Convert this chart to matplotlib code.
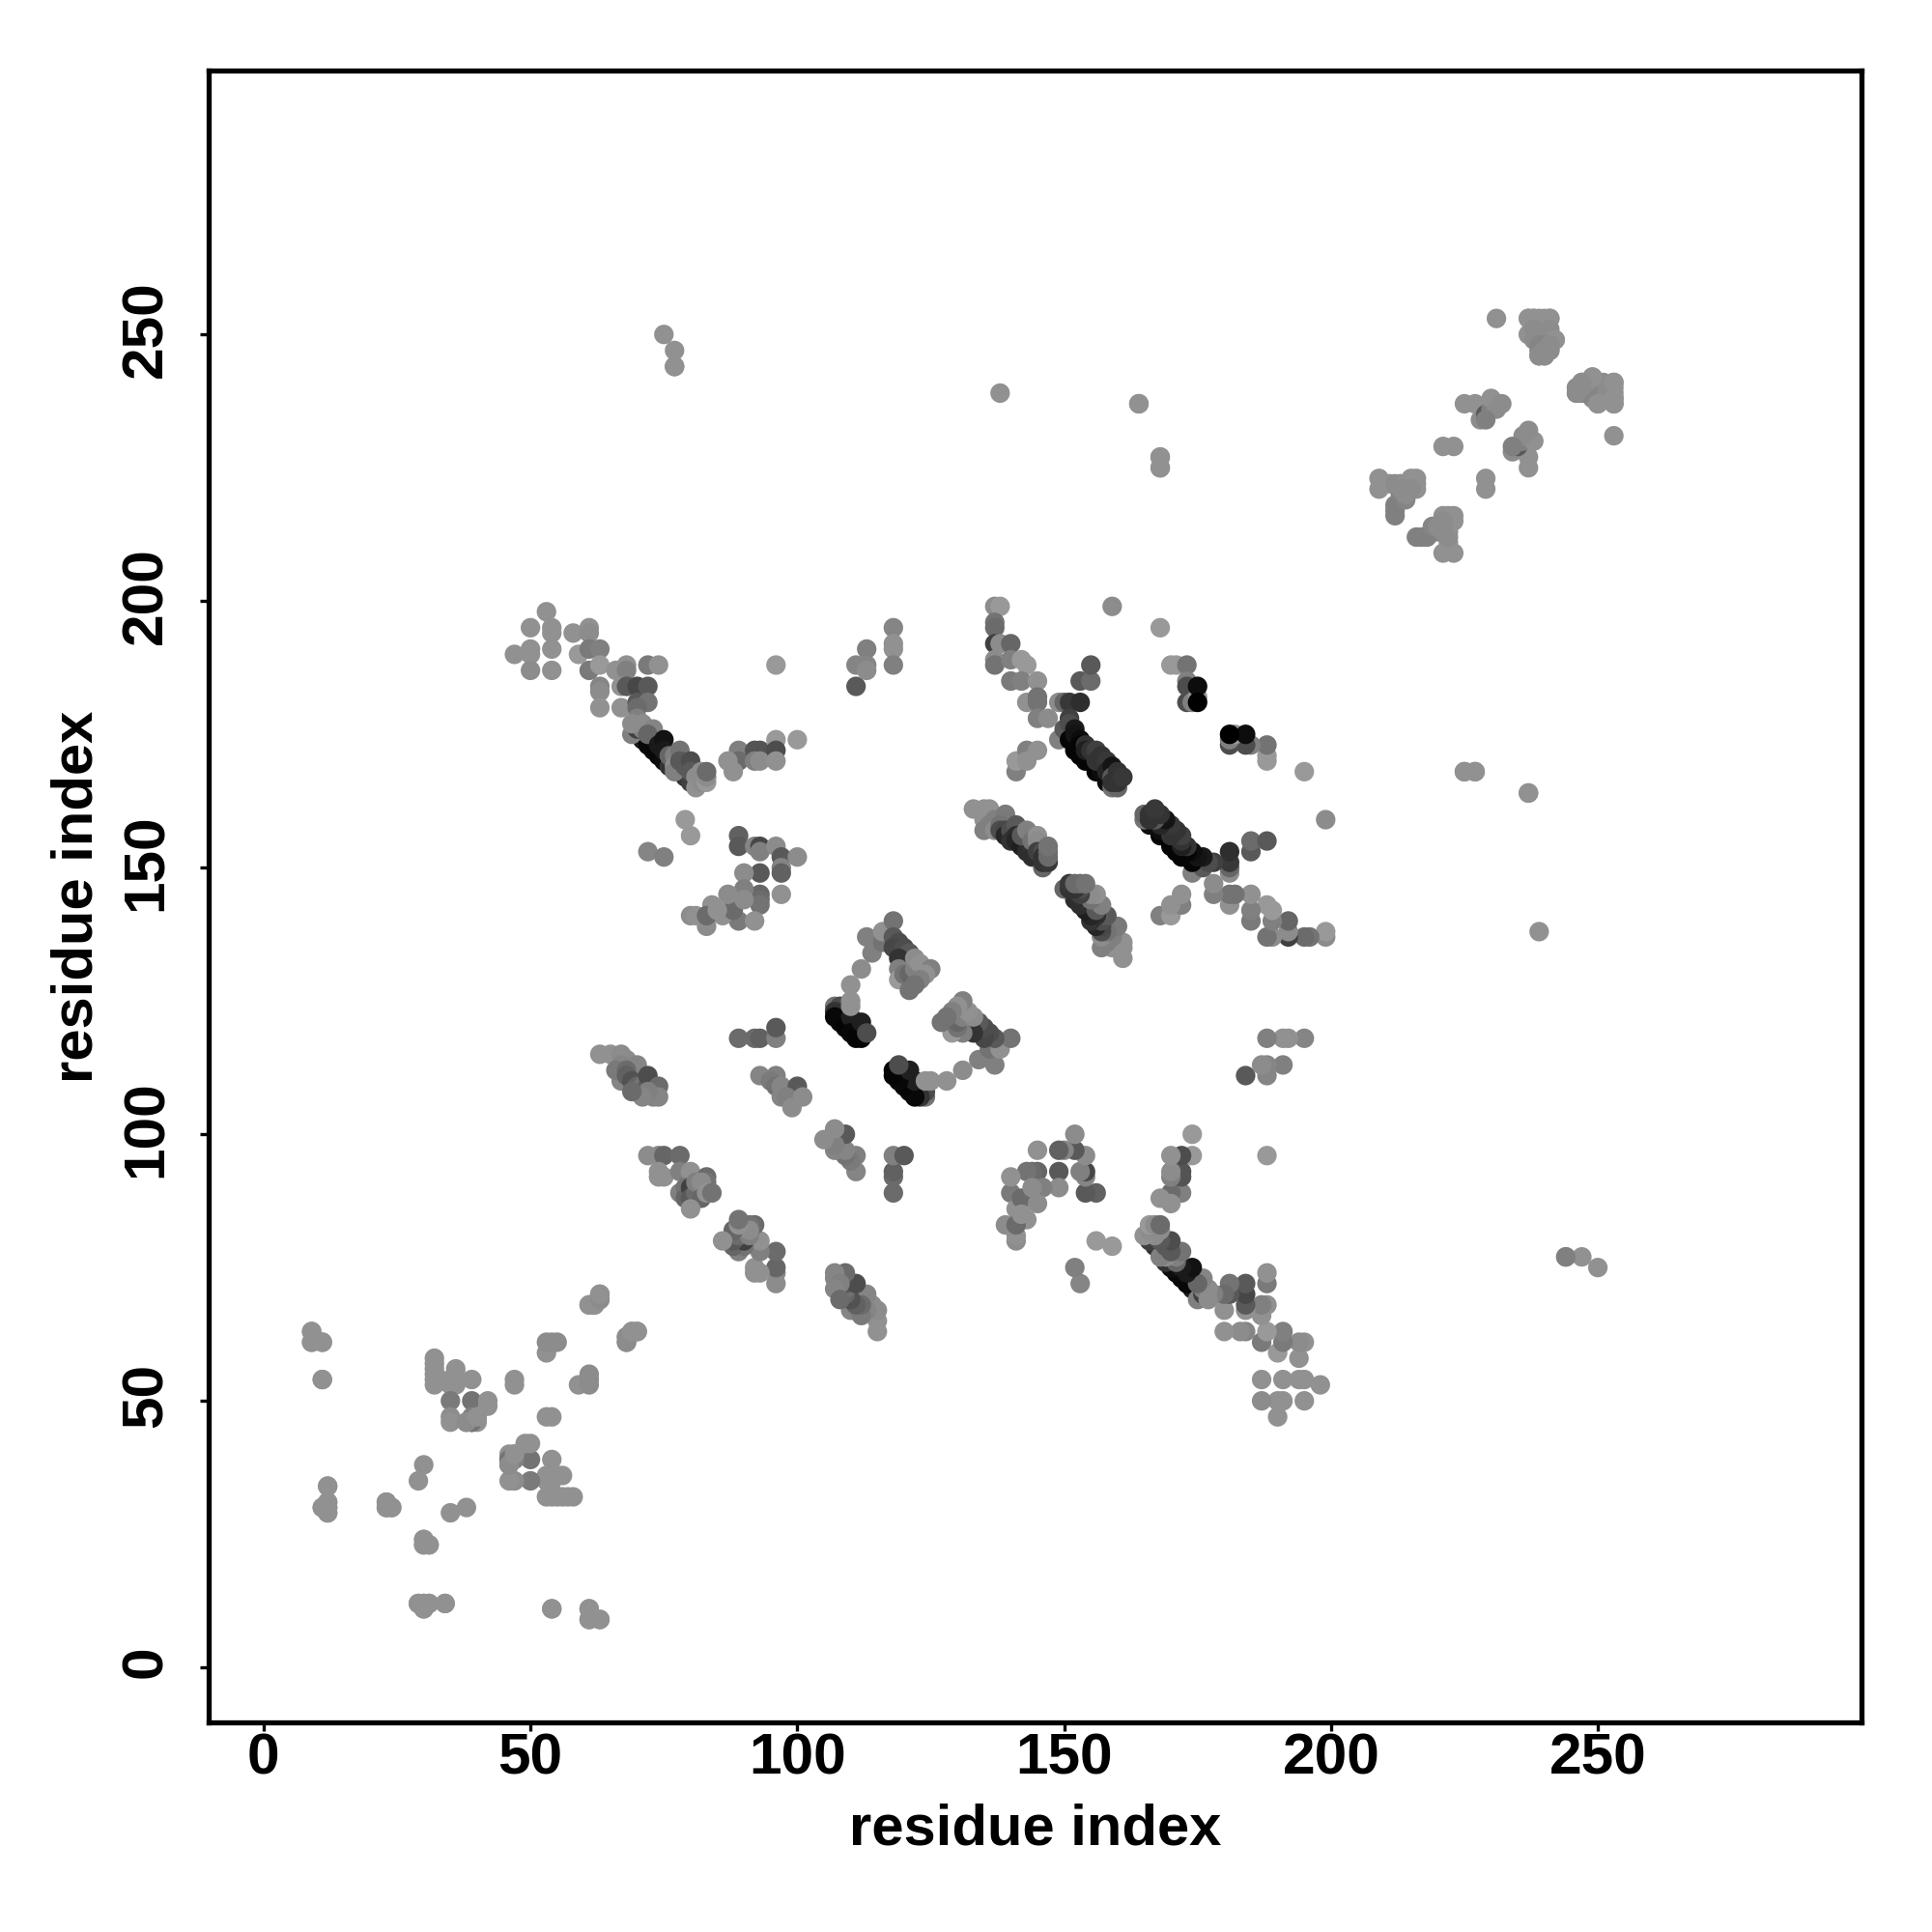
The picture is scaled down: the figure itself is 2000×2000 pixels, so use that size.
#!/usr/bin/env python3
# contact map, residue index vs residue index, grey = contact strength
import numpy as np
import matplotlib
matplotlib.use("Agg")
import matplotlib.pyplot as plt
from matplotlib.transforms import ScaledTranslation

domain_n = [
    (9,63,.57),(9,61,.57),(11,61,.57),(11,54,.57),(12,34,.57),(12,31,.57),(11,30,.57),(12,30,.57),(12,29,.57),
    (23,31,.57),(23,30,.57),(24,30,.57),(30,38,.57),(29,35,.57),(30,24,.57),(30,23,.57),(31,23,.57),
    (29,12,.57),(30,12,.57),(31,12,.57),(34,12,.57),(30,11,.57),(54,11,.57),(61,11,.57),(61,9,.57),(63,9,.57),
    (32,58,.57),(32,57,.57),(32,56,.57),(32,55,.57),(32,54,.57),(32,53,.57),(33,54,.57),(36,56,.57),(36,55,.57),
    (35,54,.57),(36,53,.57),(39,54,.57),(35,53,.57),(35,50,.48),(35,47,.55),(35,46,.57),(39,50,.45),(39,46,.3),
    (38,46,.5),(40,46,.57),(40,47,.55),(42,50,.57),(42,49,.57),(39,47,.5),(47,54,.57),(47,53,.57),
    (53,59,.57),(53,61,.55),(54,61,.55),(55,61,.55),(61,68,.57),(62,68,.57),(63,69,.55),(63,70,.57),
    (68,61,.55),(68,62,.55),(69,63,.57),(70,63,.57),
    (39,46,.45),(38,46,.55),(40,47,.57),
]

domain_c = [
    (231,253,.57),(237,253,.57),(238,253,.57),(239,253,.57),(240,253,.57),(241,253,.57),(238,252,.57),(240,252,.57),
    (237,250,.57),(238,251,.55),(239,250,.55),(240,250,.55),(241,251,.55),(241,250,.55),(242,249,.57),(238,249,.55),
    (239,248,.52),(240,248,.52),(241,248,.55),(239,247,.52),(240,247,.55),(240,246,.55),(239,246,.55),(241,247,.55),
    (225,237,.57),(227,237,.57),(228,234,.55),(229,235,.35),(230,236,.5),(231,237,.55),(230,238,.57),(232,237,.55),
    (231,236,.55),(229,234,.5),(221,229,.57),(223,229,.57),
    (209,223,.57),(209,221,.57),(210,222,.57),(211,222,.57),(212,222,.55),(213,222,.55),(214,222,.57),(215,222,.57),
    (216,223,.57),(215,223,.57),(216,222,.57),(216,221,.57),(215,221,.55),(214,221,.55),
    (212,218,.5),(212,217,.5),(213,219,.5),(213,220,.5),(214,219,.52),(214,220,.55),(212,216,.5),(213,221,.55),
    (253,241,.57),(253,238,.57),(253,237,.57),(250,237,.57),(249,242,.57),(247,241,.55),(246,240,.55),(246,239,.55),
]

helix_63_118 = [
    (63,115,.57),(65,115,.57),(67,115,.55),(68,114,.55),(69,113,.55),(70,113,.52),(67,113,.52),(67,110,.52),(66,112,.48),
    (68,112,.42),(68,111,.38),(69,110,.32),(70,109,.4),(71,109,.45),(72,109,.35),(72,111,.3),(73,108,.4),(74,109,.42),
    (74,107,.52),(73,107,.52),(72,108,.5),(71,107,.52),(69,108,.42),
    (74,96,.52),(72,96,.55),(75,96,.4),(78,96,.42),(74,93,.57),(74,92,.57),(75,92,.57),(78,93,.5),(80,93,.57),
    (83,92,.42),(83,91,.45),(83,90,.45),(78,89,.5),(79,90,.45),(79,88,.4),(80,90,.25),(80,88,.35),(81,89,.42),(81,91,.5),
    (82,91,.55),(82,88,.4),(83,89,.57),(84,89,.45),(80,86,.57),
    (89,118,.42),(92,118,.42),(93,118,.38),(96,118,.5),(96,120,.35),(93,111,.52),(96,111,.5),(95,110,.48),(96,109,.45),
    (97,109,.52),(100,109,.35),(97,107,.52),(98,107,.5),(101,107,.55),(99,105,.55),
]

beta_107_140 = [
    (107,124,.45),(108,124,.3),(107,123,.2),(107,122,.03),(108,121,.03),(109,120,.02),(110,122,.12),(110,119,.03),
    (111,118,.02),(112,118,.02),(112,121,.12),(113,119,.3),(110,124,.57),(110,125,.57),(110,128,.57),(112,131,.55),
    (114,134,.5),(113,137,.5),
    (116,136,.45),(116,138,.57),(118,140,.45),(118,137,.35),(119,136,.3),(118,135,.28),(120,135,.3),(121,134,.35),
    (119,133,.2),(120,132,.2),(119,131,.5),(119,129,.6),(120,130,.45),(121,130,.4),(122,131,.5),(122,133,.55),
    (123,132,.57),(125,131,.5),(124,130,.57),(123,129,.5),(122,128,.45),(121,127,.45),
]

sheet_left = [
    (53,198,.57),(50,195,.57),(54,195,.57),(54,194,.57),(47,190,.57),(50,191,.57),(50,190,.57),(54,191,.57),(50,187,.55),
    (54,187,.57),(58,194,.57),(61,195,.57),(61,194,.55),(59,190,.6),(61,191,.48),(63,191,.5),(61,187,.48),(63,188,.6),
    (66,187,.57),(68,188,.57),(68,187,.5),(72,188,.48),(74,188,.57),(63,184,.52),(63,183,.55),(63,180,.57),
    (67,184,.57),(67,180,.57),(68,184,.35),(70,184,.28),(72,184,.35),(70,181,.35),(72,181,.45),(70,180,.42),
    (70,175,.08),(71,174,.1),(72,173,.03),(73,172,.03),(74,171,.03),(75,170,.05),(76,169,.2),(78,168,.15),(79,167,.2),
    (80,166,.25),(69,175,.5),(70,176,.25),(71,176,.5),(70,178,.5),(69,177,.55),(71,177,.55),(73,176,.52),(72,175,.4),
    (74,173,.1),(75,174,.07),(75,172,.1),(76,171,.4),(77,171,.5),(77,169,.55),(77,168,.5),(78,172,.45),(78,170,.35),
    (79,169,.35),(80,170,.3),(80,168,.35),(81,167,.55),(81,165,.57),(82,168,.55),(82,166,.55),(83,166,.6),(83,167,.55),(83,168,.42),
    (89,172,.5),(89,170,.42),(88,168,.57),(87,170,.57),(92,172,.33),(93,172,.33),(92,170,.5),(93,170,.55),
    (96,174,.6),(96,172,.3),(96,170,.57),(100,174,.6),(96,188,.6),
    (111,184,.35),(111,188,.52),(113,191,.5),(113,188,.52),(113,187,.55),(118,195,.52),(118,192,.57),(118,191,.57),(118,188,.5),
]

sheet_mid = [
    (75,250,.57),(77,247,.57),(77,244,.57),(79,159,.6),(80,156,.6),(72,153,.52),(75,152,.5),
    (89,156,.38),(89,154,.35),(92,154,.52),(93,154,.28),(93,153,.5),(96,154,.55),(97,152,.35),(100,152,.55),
    (97,150,.52),(97,149,.38),(97,145,.57),(93,149,.35),(90,149,.55),(93,145,.4),(93,144,.42),(93,143,.45),
    (90,146,.5),(89,140,.48),(92,140,.57),(83,139,.55),(80,141,.55),(81,141,.57),(84,143,.57),(86,141,.57),
    (88,144,.48),(88,142,.42),(87,145,.55),(83,141,.42),(90,144,.55),(85,142,.57),
    (138,239,.57),(164,237,.57),(168,227,.57),(168,225,.57),(159,199,.55),(168,195,.6),(244,77,.5),
    (225,168,.57),(227,168,.57),(237,164,.57),
]

sheet_right = [
    (137,199,.55),(138,199,.6),(137,196,.45),(137,195,.42),(137,192,.25),(138,192,.55),(140,192,.4),(137,189,.55),
    (137,188,.45),(140,189,.5),(142,189,.6),(143,188,.6),(140,185,.48),(142,185,.5),(145,185,.57),(143,181,.57),
    (145,182,.45),(145,181,.45),(145,178,.5),(147,178,.55),(149,181,.55),(150,181,.4),(151,181,.22),(153,181,.18),
    (151,178,.25),(149,174,.5),(153,185,.35),(155,185,.42),(155,188,.35),
    (150,176,.35),(151,177,.3),(151,174,.02),(152,172,.02),(153,171,.02),(154,170,.02),(155,171,.02),(156,168,.02),
    (157,169,.02),(157,168,.05),(158,166,.05),(159,165,.45),(160,165,.4),(152,176,.1),(152,175,.08),(153,174,.05),
    (153,173,.02),(154,173,.2),(154,172,.12),(155,172,.2),(156,172,.25),(156,170,.2),(157,171,.2),(158,170,.22),
    (158,168,.15),(159,169,.08),(159,167,.35),(159,166,.2),(160,166,.2),(160,168,.2),(161,167,.22),
    (141,168,.5),(141,170,.6),(143,172,.5),(143,170,.57),(145,172,.57),
    (133,161,.57),(135,161,.57),(136,161,.57),(135,159,.57),(135,157,.5),(136,158,.5),(137,159,.5),(137,157,.55),
    (139,160,.48),(138,158,.45),(138,157,.3),(139,157,.28),(139,156,.15),(140,157,.3),(141,158,.35),(140,155,.2),
    (141,156,.18),(141,155,.15),(142,154,.12),(143,153,.18),(144,153,.2),(144,152,.18),(145,152,.18),(146,150,.4),
    (146,151,.2),(147,151,.22),(142,156,.35),(143,157,.5),(144,155,.45),(145,156,.57),(145,155,.55),(145,153,.25),
    (146,153,.3),(146,152,.2),(147,153,.42),(147,152,.42),(147,154,.45),
    (170,188,.6),(171,188,.6),(173,188,.45),(173,185,.5),(173,184,.3),(173,181,.3),(174,181,.5),
    (175,182,.6),(175,184,.05),(175,181,.0),
]

all_contacts = domain_n + domain_c + helix_63_118 + beta_107_140 + sheet_left + sheet_mid + sheet_right

tick_vals = [0, 50, 100, 150, 200, 250]

res_i = np.array([c[0] for c in all_contacts])
res_j = np.array([c[1] for c in all_contacts])
grey = np.array([c[2] for c in all_contacts])

plt.rcParams['font.family'] = ['Liberation Sans', 'DejaVu Sans']

fig = plt.figure(figsize=(20, 20), dpi=100)
ax = fig.add_axes([216/2000, 1 - 1783/2000, (1927-216)/2000, (1783-73)/2000])

# mirror half first, then the read half, same as the symmetric matrix
xs = np.concatenate((res_j, res_i))
ys = np.concatenate((res_i, res_j))
gs = np.concatenate((grey, grey))
ax.scatter(xs, ys, s=212, c=[str(g) for g in gs], linewidths=0, zorder=3)

ax.set_xlim(-10.3, 299.4)
ax.set_ylim(-10.3, 299.5)
ax.set_xticks(tick_vals)
ax.set_yticks(tick_vals)
ax.tick_params(length=6.4, width=2.4, labelsize=43.5)
ax.tick_params(axis='x', pad=1)
ax.tick_params(axis='y', pad=20)
for lab in ax.get_xticklabels():
    lab.set_fontweight('bold')
# rotated labels sit a bit low otherwise
yshift = ScaledTranslation(0, 0.06, fig.dpi_scale_trans)
for lab in ax.get_yticklabels():
    lab.set_fontweight('bold')
    lab.set_rotation(90)
    lab.set_va('center')
    lab.set_transform(lab.get_transform() + yshift)
for s in ax.spines.values():
    s.set_linewidth(3.8)

ax.set_xlabel('residue index', fontsize=43, fontweight='bold', labelpad=13)
ax.set_ylabel('residue index', fontsize=43, fontweight='bold', labelpad=12)

fig.savefig('out.png', dpi=100)
